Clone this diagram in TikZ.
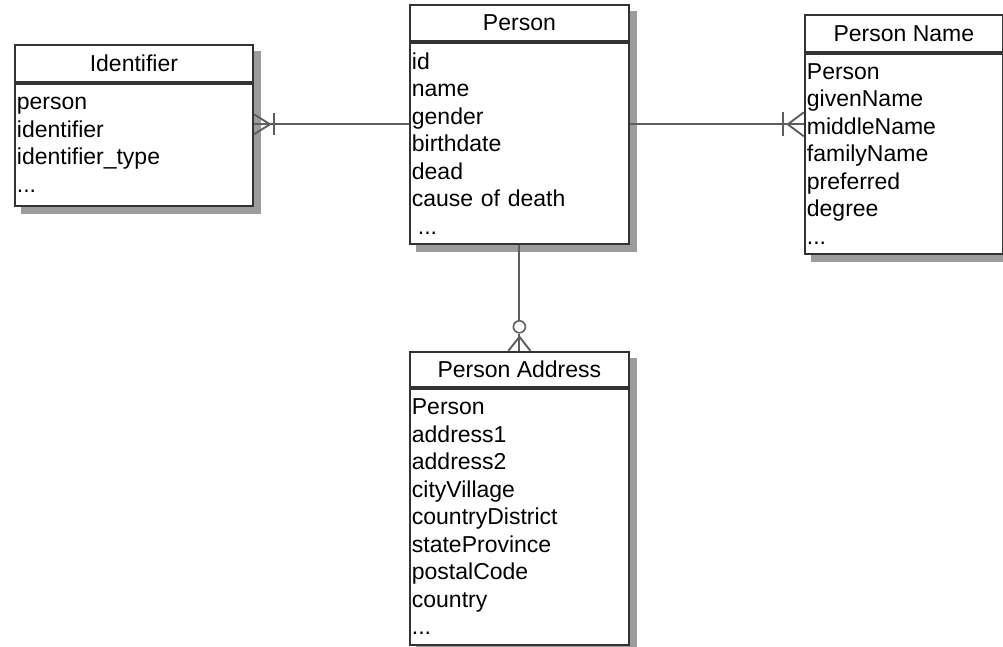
\documentclass[tikz,border=0pt]{standalone}
\usepackage{fontspec}
\setmainfont{Liberation Sans}
\usetikzlibrary{positioning,fit,shadows,backgrounds}
\definecolor{boxline}{HTML}{333333}
\definecolor{connline}{HTML}{5E5E5E}
\definecolor{shade}{HTML}{9C9C9C}
\tikzset{
    entity/.style={
           rectangle,
           draw=boxline, line width=1.8pt,
           fill=white,
           inner sep=2pt,
           font=\fontsize{23}{27.5}\selectfont,
           },
    etitle/.style={entity, anchor=north west, align=center},
    ebody/.style={entity, align=left},
    eframe/.style={
           rectangle, inner sep=0pt, fill=white,
           drop shadow={shadow xshift=7pt, shadow yshift=-7pt, fill=shade, opacity=1},
           },
    conn/.style={draw=connline, line width=1.9pt},
}
\begin{document}
\begin{tikzpicture}[x=1pt,y=-1pt]
 \useasboundingbox (0,0) rectangle (1003,647);

 % Identifier table
 \node[etitle, minimum width=238pt, minimum height=37pt] (identtitle) at (14,44) {Identifier};
 \node[ebody, text width=234pt, minimum height=122pt,
       below=0pt of identtitle] (identbody)
 {person\\identifier\\identifier\_type\\...};

 % Person table
 \node[etitle, minimum width=219pt, minimum height=36pt] (persontitle) at (409,4) {Person};
 \node[ebody, text width=215pt, minimum height=201pt,
       below=0pt of persontitle] (personbody)
 {id\\name\\gender\\birthdate\\dead\\cause of death\\\hspace{6pt}...};

 % Person Name table
 \node[etitle, minimum width=198pt, minimum height=37pt] (nametitle) at (804,14) {Person Name};
 \node[ebody, text width=194pt, minimum height=200pt,
       below=0pt of nametitle] (namebody)
 {Person\\givenName\\middleName\\familyName\\preferred\\degree\\...};

 % Person Address table
 \node[etitle, minimum width=219pt, minimum height=35pt] (addrtitle) at (409,351) {Person Address};
 \node[ebody, text width=215pt, minimum height=256pt,
       below=0pt of addrtitle] (addrbody)
 {Person\\address1\\address2\\cityVillage\\countryDistrict\\stateProvince\\postalCode\\country\\...};

 % whole tables, with their shadows behind
 \begin{scope}[on background layer]
  \node[eframe, fit=(identtitle)(identbody)] (ident) {};
  \node[eframe, fit=(persontitle)(personbody)] (person) {};
  \node[eframe, fit=(nametitle)(namebody)] (pname) {};
  \node[eframe, fit=(addrtitle)(addrbody)] (addr) {};
 \end{scope}

 % relations: one-and-only-one to many
 \coordinate (identend) at (ident.east |- person.west);
 \draw[conn] (person.west) -- (identend);
 \draw[conn] ([yshift=10pt]identend) -- ([xshift=16pt]identend) -- ([yshift=-10pt]identend);
 \draw[conn] ([xshift=20pt,yshift=11pt]identend) -- ([xshift=20pt,yshift=-11pt]identend);

 \coordinate (nameend) at (pname.west |- person.east);
 \draw[conn] (person.east) -- (nameend);
 \draw[conn] ([yshift=12pt]nameend) -- ([xshift=-16pt]nameend) -- ([yshift=-12pt]nameend);
 \draw[conn] ([xshift=-21pt,yshift=12pt]nameend) -- ([xshift=-21pt,yshift=-12pt]nameend);

 % relation: zero or many
 \coordinate (addrend) at (person.south |- addr.north);
 \node[circle, draw=connline, line width=1.6pt, fill=white, inner sep=0pt,
       minimum size=12pt] (ring) at ([yshift=24pt]addrend) {};
 \draw[conn] (person.south) -- (ring.north);
 \draw[conn] (ring.south) -- (addrend);
 \draw[conn] ([xshift=-11pt]addrend) -- ([yshift=14pt]addrend) -- ([xshift=11pt]addrend);
\end{tikzpicture}
\end{document}
